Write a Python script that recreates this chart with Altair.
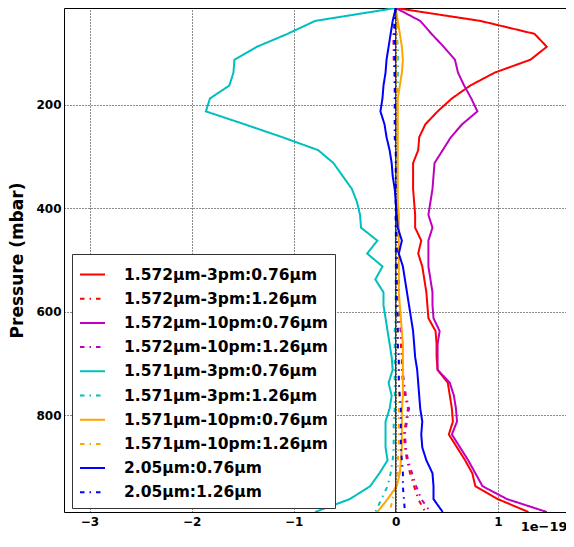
import altair as alt
import pandas as pd

pressure = [12.5, 37.5, 62.5, 87.5, 112.5, 137.5, 162.5, 187.5, 212.5, 237.5,
            262.5, 287.5, 312.5, 337.5, 362.5, 387.5, 412.5, 437.5, 462.5, 487.5,
            512.5, 537.5, 562.5, 587.5, 612.5, 637.5, 662.5, 687.5, 712.5, 737.5,
            762.5, 787.5, 812.5, 837.5, 862.5, 887.5, 912.5, 937.5, 962.5, 987.5]

series_names = [
    "1.572μm-3pm:0.76μm", "1.572μm-3pm:1.26μm",
    "1.572μm-10pm:0.76μm", "1.572μm-10pm:1.26μm",
    "1.571μm-3pm:0.76μm", "1.571μm-3pm:1.26μm",
    "1.571μm-10pm:0.76μm", "1.571μm-10pm:1.26μm",
    "2.05μm:0.76μm", "2.05μm:1.26μm",
]
colors = ["#ff0000", "#ff0000", "#bf00bf", "#bf00bf", "#00bfbf", "#00bfbf",
          "#ffa500", "#ffa500", "#0000ff", "#0000ff"]
solid = [1, 0]
dashdot = [4.5, 5, 1.5, 5]
dashes = [solid, dashdot] * 5

red_076 = [0.0, 0.83, 1.36, 1.48, 1.32, 0.97, 0.73, 0.55, 0.41, 0.29,
           0.23, 0.22, 0.17, 0.17, 0.17, 0.18, 0.19, 0.19, 0.25, 0.22,
           0.26, 0.28, 0.30, 0.31, 0.32, 0.39, 0.40, 0.40, 0.41, 0.51,
           0.53, 0.55, 0.56, 0.52, 0.60, 0.68, 0.75, 0.78, 1.00, 1.30]
red_126 = [0.0, -0.01, -0.02, -0.02, -0.01, -0.01, 0.0, 0.0, 0.01, 0.01,
           0.01, 0.01, 0.01, 0.01, 0.01, 0.01, 0.02, 0.02, 0.02, 0.02,
           0.02, 0.03, 0.03, 0.03, 0.04, 0.05, 0.05, 0.06, 0.06, 0.07,
           0.09, 0.12, 0.10, 0.08, 0.09, 0.11, 0.14, 0.18, 0.22, 0.29]
mag_076 = [0.0, 0.24, 0.35, 0.47, 0.58, 0.61, 0.67, 0.74, 0.80, 0.65,
           0.54, 0.46, 0.38, 0.37, 0.36, 0.34, 0.32, 0.36, 0.32, 0.32,
           0.32, 0.34, 0.36, 0.36, 0.37, 0.43, 0.41, 0.41, 0.41, 0.53,
           0.57, 0.59, 0.60, 0.55, 0.63, 0.71, 0.78, 0.85, 1.09, 1.48]
mag_126 = [0.0, -0.01, -0.02, -0.02, -0.02, -0.01, -0.01, 0.0, 0.0, 0.01,
           0.01, 0.01, 0.01, 0.01, 0.01, 0.01, 0.02, 0.02, 0.02, 0.02,
           0.02, 0.03, 0.03, 0.03, 0.04, 0.05, 0.06, 0.06, 0.07, 0.08,
           0.10, 0.13, 0.11, 0.09, 0.10, 0.12, 0.16, 0.20, 0.25, 0.34]
cyan_076 = [0.0, -0.79, -1.06, -1.36, -1.58, -1.59, -1.63, -1.82, -1.86, -1.48,
            -1.11, -0.76, -0.61, -0.52, -0.43, -0.38, -0.35, -0.34, -0.18, -0.28,
            -0.13, -0.20, -0.12, -0.12, -0.10, -0.08, -0.06, -0.04, -0.03, -0.07,
            -0.04, -0.06, -0.10, -0.10, -0.10, -0.08, -0.16, -0.25, -0.45, -0.79]
cyan_126 = [0.0, 0.01, 0.01, 0.02, 0.02, 0.02, 0.02, 0.01, 0.01, 0.01,
            0.01, 0.01, 0.01, 0.01, 0.01, 0.0, 0.0, 0.0, 0.0, 0.0,
            0.0, 0.0, 0.0, 0.0, 0.0, -0.01, -0.01, -0.01, -0.01, -0.01,
            -0.01, -0.01, -0.02, -0.02, -0.02, -0.03, -0.05, -0.08, -0.14, -0.20]
orange_076 = [0.0, 0.02, 0.04, 0.06, 0.07, 0.06, 0.04, 0.02, 0.02, 0.02,
              0.02, 0.02, 0.02, 0.02, 0.02, 0.02, 0.03, 0.03, 0.03, 0.03,
              0.03, 0.03, 0.03, 0.04, 0.05, 0.06, 0.07, 0.07, 0.07, 0.07,
              0.07, 0.06, 0.06, 0.06, 0.06, 0.05, 0.04, 0.01, -0.08, -0.18]
orange_126 = [0.0, 0.01, 0.01, 0.01, 0.01, 0.01, 0.01, 0.01, 0.01, 0.01,
              0.01, 0.01, 0.01, 0.01, 0.01, 0.01, 0.01, 0.01, 0.01, 0.01,
              0.01, 0.02, 0.02, 0.02, 0.02, 0.02, 0.02, 0.03, 0.03, 0.03,
              0.03, 0.03, 0.03, 0.03, 0.03, 0.02, 0.02, 0.0, -0.03, -0.06]
blue_076 = [0.0, -0.03, -0.05, -0.07, -0.09, -0.10, -0.12, -0.13, -0.15, -0.11,
            -0.09, -0.06, -0.04, -0.03, -0.01, 0.0, 0.01, 0.02, 0.06, 0.03,
            0.07, 0.09, 0.11, 0.13, 0.15, 0.17, 0.18, 0.19, 0.21, 0.22,
            0.23, 0.24, 0.26, 0.25, 0.26, 0.30, 0.36, 0.37, 0.37, 0.46]
blue_126 = [0.0, -0.01, -0.01, -0.01, -0.01, -0.01, -0.01, -0.01, -0.01, -0.01,
            -0.01, 0.0, 0.0, 0.0, 0.0, 0.0, 0.0, 0.0, 0.01, 0.01,
            0.01, 0.01, 0.01, 0.01, 0.02, 0.02, 0.02, 0.03, 0.03, 0.03,
            0.04, 0.05, 0.05, 0.05, 0.05, 0.06, 0.07, 0.07, 0.08, 0.09]

all_values = [red_076, red_126, mag_076, mag_126, cyan_076, cyan_126,
              orange_076, orange_126, blue_076, blue_126]

x_ticks = [-3, -2, -1, 0, 1]
y_ticks = [200, 400, 600, 800]
zero_line = [0.0]

rows = []
for name, vals in zip(series_names, all_values, strict=True):
    for k, (p, v) in enumerate(zip(pressure, vals, strict=True)):
        rows.append({"series": name, "p": p, "v": v, "k": k})
df = pd.DataFrame(rows)

FONT = "DejaVu Sans"

leg = alt.Legend(
    orient="none", legendX=8, legendY=246, title=None,
    fillColor="white", strokeColor="#333333", padding=7, cornerRadius=0,
    labelFont=FONT, labelFontWeight="bold", labelFontSize=15.5, labelLimit=400,
    symbolType="stroke", symbolSize=625, symbolStrokeWidth=2,
    labelOffset=18, rowPadding=2.2,
)

xscale = alt.Scale(domain=[-3.25, 1.668], nice=False, zero=False)
yscale = alt.Scale(domain=[12.5, 987.5], reverse=True, nice=False, zero=False)

lines = alt.Chart(df).mark_line(strokeWidth=2, clip=True).encode(
    x=alt.X("v:Q", scale=xscale,
            axis=alt.Axis(values=x_ticks, format="d", title="1e−19",
                          titleAnchor="end", titleAlign="right", titleX=503, titleY=18,
                          titleBaseline="alphabetic", titleFontSize=13,
                          labelPadding=4)),
    y=alt.Y("p:Q", scale=yscale,
            axis=alt.Axis(values=y_ticks, format="d", title="Pressure (mbar)",
                          titleFontSize=17, titlePadding=9, labelPadding=3)),
    color=alt.Color("series:N", scale=alt.Scale(domain=series_names, range=colors), legend=leg),
    strokeDash=alt.StrokeDash("series:N", scale=alt.Scale(domain=series_names, range=dashes), legend=leg),
    order=alt.Order("k:Q"),
)

zero = alt.Chart(pd.DataFrame({"x": zero_line})).mark_rule(color="black", strokeWidth=1).encode(
    x=alt.X("x:Q", scale=xscale)
)

chart = alt.layer(lines, zero).properties(
    width=502, height=504,
    autosize=alt.AutoSizeParams(type="none"),
    padding={"left": 56, "top": 0, "right": 0, "bottom": 21},
    background="white",
).configure_view(
    stroke="black", strokeWidth=1
).configure_axis(
    labelFont=FONT, labelFontWeight="bold", labelFontSize=12, labelColor="black",
    titleFont=FONT, titleFontWeight="bold", titleColor="black",
    grid=True, gridColor="black", gridDash=[1, 2], gridWidth=1, gridOpacity=0.9,
    ticks=False, domain=False,
)

chart.save("out.html", embed_options={"renderer": "svg", "actions": False})
